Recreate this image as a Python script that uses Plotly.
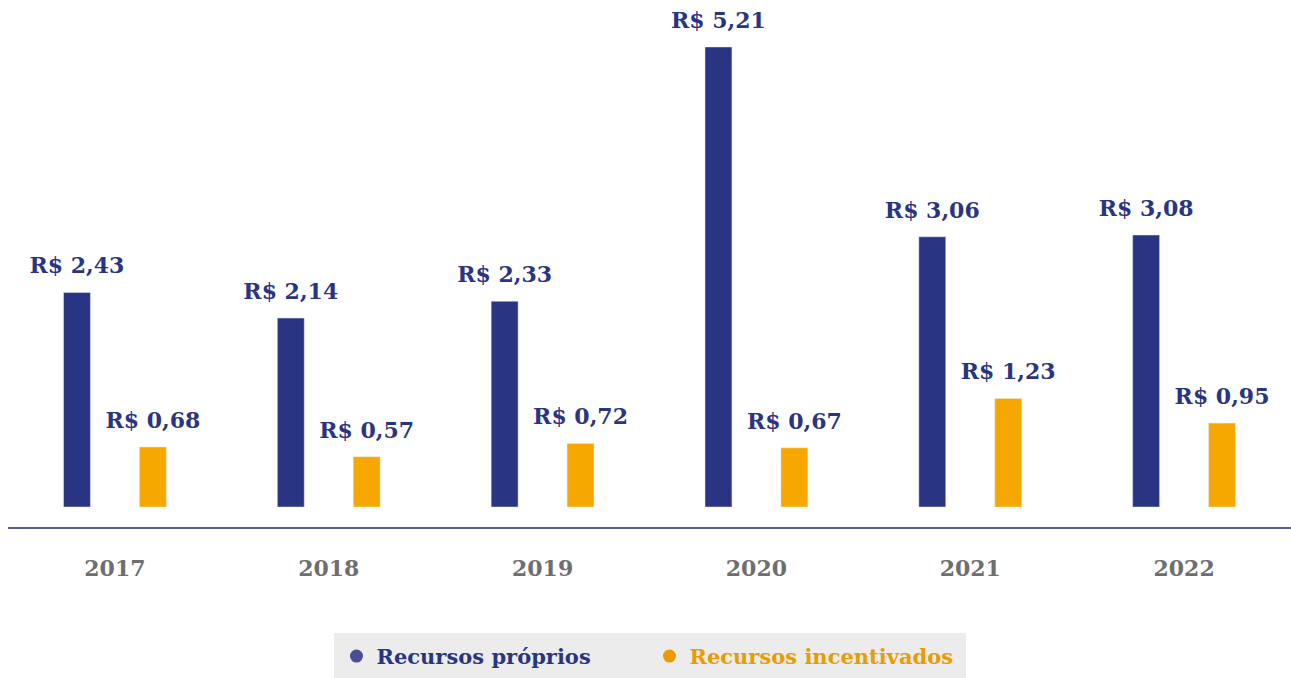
import plotly.graph_objects as go

years = ["2017", "2018", "2019", "2020", "2021", "2022"]
proprios = [2.43, 2.14, 2.33, 5.21, 3.06, 3.08]
incentivados = [0.68, 0.57, 0.72, 0.67, 1.23, 0.95]
name_proprios = "Recursos próprios"
name_incentivados = "Recursos incentivados"

BLUE = "#293583"
ORANGE = "#f6a800"
LABEL_FONT = "DejaVu Serif"

def fmt(v):
    return "<b>R$ " + f"{v:.2f}".replace(".", ",") + "</b>"

fig = go.Figure()
fig.add_trace(go.Bar(x=years, y=proprios, marker_color=BLUE, showlegend=False,
                     offsetgroup="a", hoverinfo="skip"))
fig.add_trace(go.Bar(x=years, y=incentivados, marker_color=ORANGE, showlegend=False,
                     offsetgroup="b", hoverinfo="skip"))
# value labels (text above bars)
for vals, grp in ((proprios, "a"), (incentivados, "b")):
    fig.add_trace(go.Scatter(x=years, y=vals, mode="markers+text", orientation="v",
                             offsetgroup=grp, showlegend=False, hoverinfo="skip",
                             marker=dict(size=20, color="rgba(0,0,0,0)"),
                             text=[fmt(v) for v in vals], textposition="top center",
                             textfont=dict(family=LABEL_FONT, size=22, color=BLUE),
                             cliponaxis=False))
# legend entries with circle markers
fig.add_trace(go.Scatter(x=[None], y=[None], mode="markers",
                         marker=dict(symbol="circle", size=13, color="#4a4f94"),
                         name=f'<span style="color:{BLUE}"><b>{name_proprios}</b></span>'))
fig.add_trace(go.Scatter(x=[None], y=[None], mode="markers",
                         marker=dict(symbol="circle", size=13, color="#e89c00"),
                         name=f'<span style="color:#e89c00"><b>{name_incentivados}</b></span>'))

fig.update_layout(
    width=1291, height=678,
    margin=dict(l=8, r=0, t=5, b=151, autoexpand=False),
    paper_bgcolor="white", plot_bgcolor="white",
    barmode="group", bargap=0.29, bargroupgap=0.645,
    scattermode="group", scattergap=0.29,
    legend=dict(orientation="h", x=0.5, xanchor="center", y=-0.203, yanchor="top",
                bgcolor="#ececec", bordercolor="#ececec", borderwidth=3,
                font=dict(family=LABEL_FONT, size=21),
                entrywidth=268, itemwidth=30),
    xaxis=dict(type="category", showline=True, linecolor="#5a5f9a", linewidth=1.5,
               showgrid=False, ticks="", ticklabelstandoff=21,
               tickfont=dict(family=LABEL_FONT, size=22, color="#6e6e6e"),
               tickprefix="<b>", ticksuffix="</b>"),
    yaxis=dict(visible=False, range=[-0.2265, 5.685], showgrid=False, zeroline=False),
)

fig.write_html("out.html", config={"displayModeBar": False},
               post_script="document.body.style.margin='0';document.body.style.overflow='hidden';")
